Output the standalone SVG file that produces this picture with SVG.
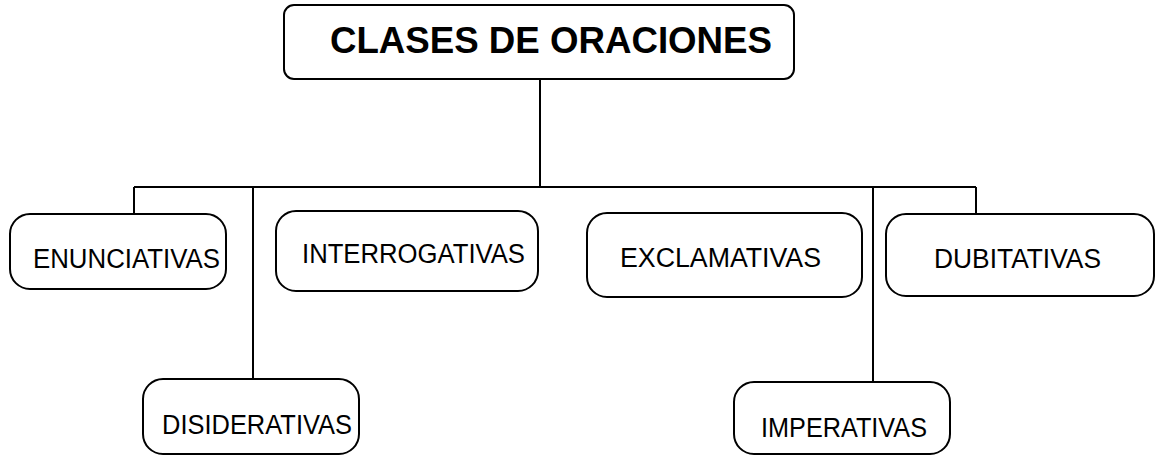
<svg xmlns="http://www.w3.org/2000/svg" width="1157" height="456" viewBox="0 0 1157 456">
<style>
.box{fill:#fff;stroke:#000;stroke-width:2}
.lbl{font-family:"Liberation Sans",Arial,sans-serif;font-size:27px;fill:#000}
.ttl{font-family:"Liberation Sans",Arial,sans-serif;font-size:37px;font-weight:bold;fill:#000}
.conn{stroke:#000;stroke-width:2;fill:none}
</style>
<rect width="1157" height="456" fill="#fff"/>
<g id="connectors">
<line class="conn" x1="540" y1="79" x2="540" y2="187"/>
<line class="conn" x1="134" y1="187" x2="976" y2="187"/>
<line class="conn" x1="134" y1="187" x2="134" y2="214"/>
<line class="conn" x1="253" y1="187" x2="253" y2="379"/>
<line class="conn" x1="873" y1="187" x2="873" y2="382"/>
<line class="conn" x1="976" y1="187" x2="976" y2="214"/>
</g>
<g id="title">
<rect class="box" x="284" y="5" width="510" height="74" rx="10"/>
<text class="ttl" x="330" y="53" textLength="442" lengthAdjust="spacingAndGlyphs">CLASES DE ORACIONES</text>
</g>
<g id="enunciativas">
<rect class="box" x="10" y="214" width="216" height="75" rx="20"/>
<text class="lbl" x="33" y="268" textLength="187" lengthAdjust="spacingAndGlyphs">ENUNCIATIVAS</text>
</g>
<g id="disiderativas">
<rect class="box" x="143" y="379" width="216" height="75" rx="20"/>
<text class="lbl" x="162" y="434" textLength="190" lengthAdjust="spacingAndGlyphs">DISIDERATIVAS</text>
</g>
<g id="interrogativas">
<rect class="box" x="276" y="211" width="262" height="80" rx="20"/>
<text class="lbl" x="302" y="263" textLength="223" lengthAdjust="spacingAndGlyphs">INTERROGATIVAS</text>
</g>
<g id="exclamativas">
<rect class="box" x="587" y="213" width="275" height="84" rx="20"/>
<text class="lbl" x="620" y="267" textLength="201" lengthAdjust="spacingAndGlyphs">EXCLAMATIVAS</text>
</g>
<g id="dubitativas">
<rect class="box" x="886" y="214" width="268" height="82" rx="20"/>
<text class="lbl" x="934" y="268" textLength="167" lengthAdjust="spacingAndGlyphs">DUBITATIVAS</text>
</g>
<g id="imperativas">
<rect class="box" x="734" y="382" width="216" height="72" rx="20"/>
<text class="lbl" x="761" y="437" textLength="166" lengthAdjust="spacingAndGlyphs">IMPERATIVAS</text>
</g>
</svg>
